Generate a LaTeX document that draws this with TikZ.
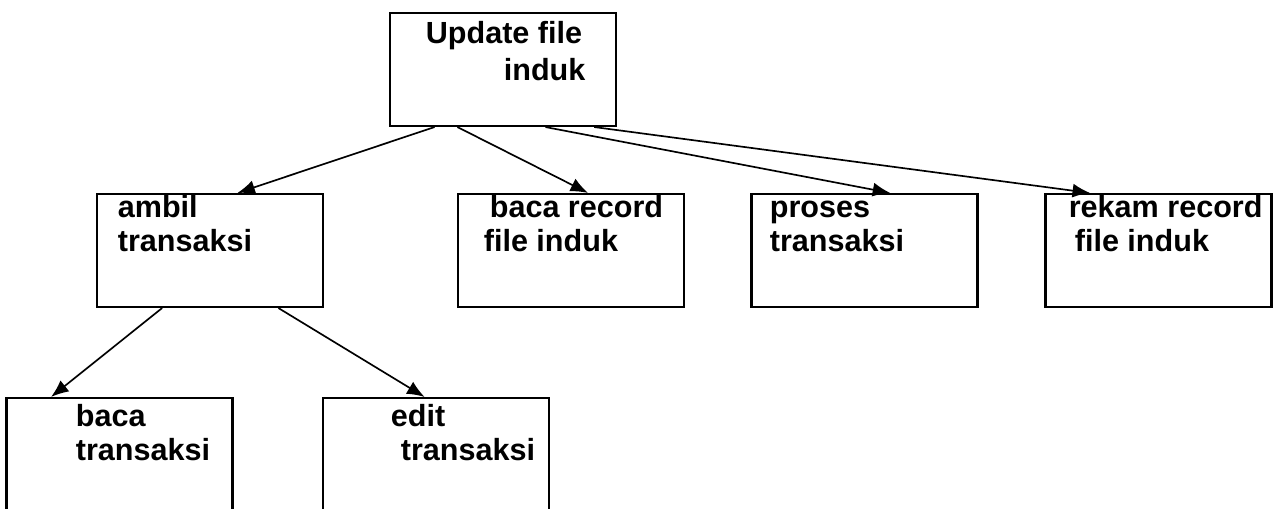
\documentclass[tikz,border=0pt]{standalone}
\usepackage{fontspec}
\setmainfont{Liberation Sans}
\usetikzlibrary{arrows.meta,calc}
\begin{document}
\begin{tikzpicture}[x=0.02cm, y=-0.02cm, -{Latex[length=10pt,width=8pt]}, line width=0.95pt]
\clip (0,0) rectangle (1273,508);
\tikzstyle{every node} = [draw, line width=1.2pt, inner sep=0pt, minimum width=4.52cm, minimum height=2.26cm]
\node (1) at (503,69.5) {};
\node (2) at (210,250.5) {};
\node (3) at (571,250.5) {};
\node (4) at (864.5,250.5) {};
\node (5) at (1158.5,250.5) {};
\node (6) at (119.5,454.5) {};
\node (7) at (436,454.5) {};
\tikzstyle{every node} = [inner sep=0pt, align=left, anchor=base west, font=\fontsize{17.4}{19.3}\selectfont\bfseries]
\node (t1) at (425,80) {Update file\\[1.7pt]\hspace*{1.56cm}induk};
\node (t2) at (117,251) {ambil\\transaksi};
\node (t3) at (483,251) {\hspace*{0.12cm}baca record\\file induk};
\node (t4) at (769,251) {proses\\transaksi};
\node (t5) at (1068,251) {rekam record\\\hspace*{0.12cm}file induk};
\node (t6) at (75,460) {baca\\transaksi};
\node (t7) at (390,460) {edit\\\hspace*{0.2cm}transaksi};
\tikzstyle{every node} = []
\draw ($(1.south west)!.2!(1.south east)$) -- ($(2.north west)!.62!(2.north east)$);
\draw ($(1.south west)!.3!(1.south east)$) -- ($(3.north west)!.575!(3.north east)$);
\draw ($(1.south west)!.686!(1.south east)$) -- ($(4.north west)!.613!(4.north east)$);
\draw ($(1.south west)!.9!(1.south east)$) -- ($(5.north west)!.2!(5.north east)$);
\draw ($(2.south west)!.29!(2.south east)$) -- ($(6.north west)!.2!(6.north east)$);
\draw ($(2.south west)!.8!(2.south east)$) -- ($(7.north west)!.45!(7.north east)$);
\end{tikzpicture}
\end{document}
